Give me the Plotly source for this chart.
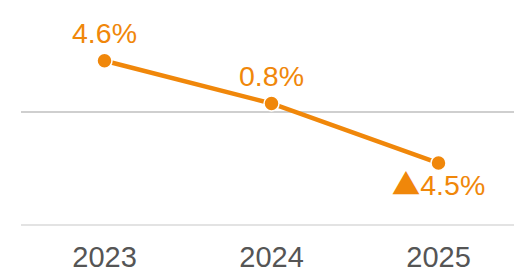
import plotly.graph_objects as go

years = ["2023", "2024", "2025"]
growth = [4.6, 0.8, -4.5]
labels = ["4.6%", "0.8%", "▲4.5%"]
label_pos = ["top center", "top center", "bottom center"]

orange = "#F0870A"

# render the triangle marker sign with a full-width glyph
shown = [t.replace("▲", "<span style=\"font-family:'Noto Sans CJK JP'\">▲</span>") for t in labels]

fig = go.Figure()
fig.add_trace(go.Scatter(
    x=years, y=growth,
    mode="lines+markers+text",
    line=dict(color=orange, width=4.5),
    marker=dict(size=15, color=orange, line=dict(color="white", width=1.5)),
    text=shown,
    textposition=label_pos,
    textfont=dict(family="Liberation Sans, Arial, sans-serif", size=28.5, color=orange),
    cliponaxis=False,
    hoverinfo="skip",
))

# page body has an 8px margin, so the figure is shifted by (8, 8)
fig.update_layout(
    width=514, height=262,
    margin=dict(l=13, r=0, t=0, b=41),
    paper_bgcolor="white", plot_bgcolor="white",
    showlegend=False,
    font=dict(family="Liberation Sans, Arial, sans-serif"),
)
fig.update_xaxes(
    type="category", range=[-0.5, 2.5], automargin=False,
    showgrid=False, showline=False, ticks="",
    tickfont=dict(size=29, color="#555555"),
    ticklabelstandoff=8,
)
fig.update_yaxes(
    range=[-10.36, 9.29], tickvals=[-10, 0], automargin=False,
    showticklabels=False,
    showgrid=True, gridcolor="#e3e3e3", gridwidth=1.5,
    zeroline=True, zerolinecolor="#cfcfcf", zerolinewidth=1.5,
    showline=False,
)

fig.write_html("out.html")
